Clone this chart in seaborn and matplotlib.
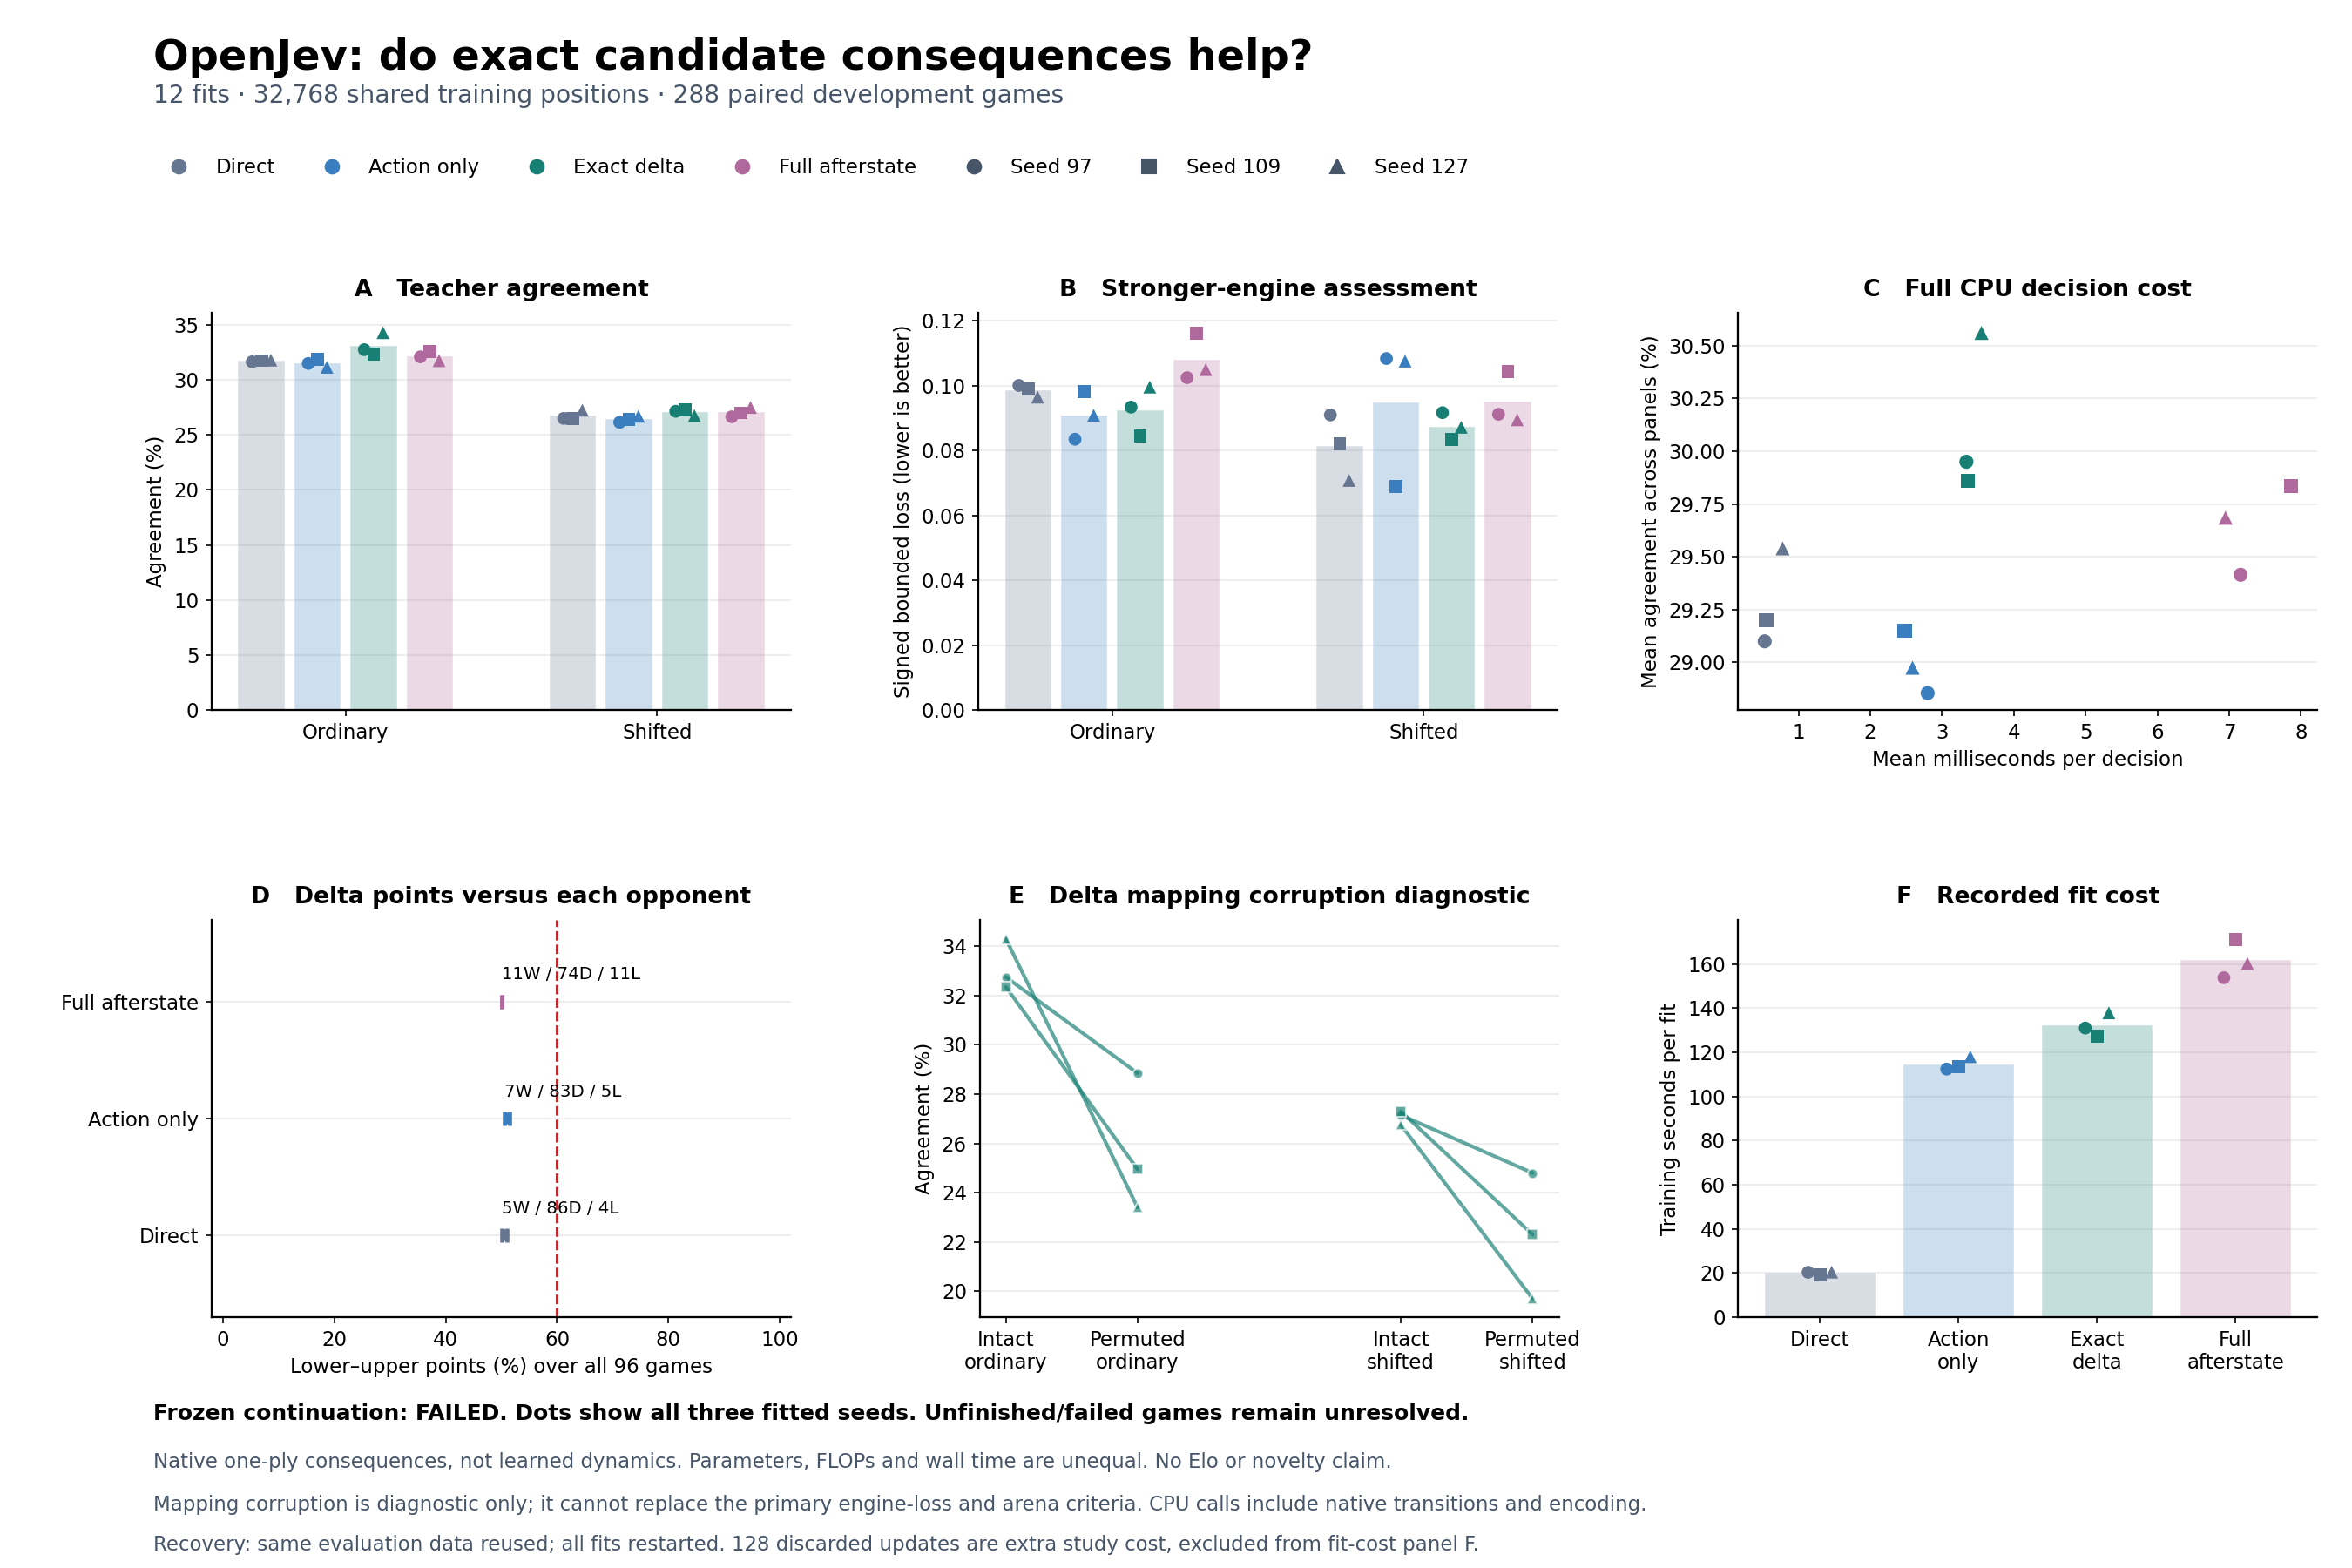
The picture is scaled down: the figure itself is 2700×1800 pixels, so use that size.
import numpy as np
import pandas as pd
import matplotlib.pyplot as plt
import seaborn as sns
from matplotlib.lines import Line2D

variants = ['Direct', 'Action only', 'Exact delta', 'Full afterstate']
variant_ticks = ['Direct', 'Action\nonly', 'Exact\ndelta', 'Full\nafterstate']
seeds = ['Seed 97', 'Seed 109', 'Seed 127']
panels = ['Ordinary', 'Shifted']

# rows: variants, columns: seeds 97 / 109 / 127
agree_ordinary = [[31.65, 31.75, 31.8], [31.5, 31.85, 31.15],
                  [32.75, 32.35, 34.3], [32.1, 32.6, 31.75]]
agree_shifted = [[26.5, 26.5, 27.25], [26.15, 26.4, 26.7],
                 [27.15, 27.3, 26.75], [26.65, 27.0, 27.5]]

loss_ordinary = [[0.1001, 0.0990, 0.0965], [0.0835, 0.0982, 0.0909],
                 [0.0934, 0.0845, 0.0996], [0.1025, 0.1162, 0.1050]]
loss_shifted = [[0.0910, 0.0821, 0.0708], [0.1084, 0.0689, 0.1076],
                [0.0917, 0.0834, 0.0872], [0.0912, 0.1044, 0.0895]]

ms_per_decision = [[0.53, 0.55, 0.78], [2.80, 2.48, 2.59],
                   [3.34, 3.36, 3.55], [7.16, 7.86, 6.95]]
mean_agreement = [[29.10, 29.20, 29.54], [28.855, 29.15, 28.975],
                  [29.95, 29.86, 30.56], [29.415, 29.835, 29.685]]

# delta vs each opponent (96 games)
opponents = ['Direct', 'Action only', 'Full afterstate']
opp_wins = [5, 7, 11]
opp_draws = [86, 83, 74]
opp_losses = [4, 5, 11]
n_games = 96

# exact delta mapping corruption, per seed
intact_ordinary = [32.75, 32.35, 34.3]
permuted_ordinary = [28.85, 24.95, 23.4]
intact_shifted = [27.15, 27.3, 26.75]
permuted_shifted = [24.8, 22.3, 19.7]

fit_seconds = [[20.3, 19.2, 20.4], [112.4, 113.6, 118.0],
               [131.0, 127.3, 137.9], [153.8, 171.2, 160.3]]

colors = ['#667590', '#3a7ebf', '#177f73', '#b0699c']
seed_color = '#475569'
markers = {'Seed 97': 'o', 'Seed 109': 's', 'Seed 127': '^'}
palette = dict(zip(variants, colors))

sns.set_style('ticks')
plt.rcParams['font.family'] = ['DejaVu Sans']
plt.rcParams.update({
    'xtick.labelsize': 11, 'ytick.labelsize': 11, 'axes.labelsize': 11,
    'axes.linewidth': 1.1, 'text.color': 'black', 'axes.labelcolor': 'black',
    'xtick.color': 'black', 'ytick.color': 'black', 'axes.edgecolor': 'black',
})

fig = plt.figure(figsize=(18, 12), dpi=150)

w, h = 0.2463, 0.2533
axA = fig.add_axes([0.090, 0.5472, w, h])
axB = fig.add_axes([0.416, 0.5472, w, h])
axC = fig.add_axes([0.739, 0.5472, w, h])
axD = fig.add_axes([0.090, 0.160, w, h])
axE = fig.add_axes([0.4165, 0.160, w, h])
axF = fig.add_axes([0.739, 0.160, w, h])


def long_table(ordinary, shifted):
    rows = []
    for pi, vals in enumerate([ordinary, shifted]):
        for vi, v in enumerate(variants):
            for si, s in enumerate(seeds):
                rows.append({'panel': panels[pi], 'variant': v, 'seed': s,
                             'value': vals[vi][si], 'pi': pi, 'vi': vi, 'si': si})
    return pd.DataFrame(rows)


def style_ax(ax, title):
    ax.set_title(title, fontsize=12.8, fontweight='bold', pad=9)
    ax.grid(axis='y', color='#eeeeee', lw=1.0)
    ax.set_axisbelow(True)
    sns.despine(ax=ax)


def grouped_panel(ax, ordinary, shifted, ylabel, title, ylim):
    df = long_table(ordinary, shifted)
    sns.barplot(data=df, x='panel', y='value', hue='variant', hue_order=variants,
                palette=palette, width=0.72, gap=0.17, errorbar=None,
                saturation=1, alpha=0.25, legend=False, ax=ax)
    seed_shift = np.array([-0.03, 0.0, 0.03])
    df['x'] = df['pi'] + (df['vi'] - 1.5) * 0.18 + seed_shift[df['si']]
    sns.scatterplot(data=df, x='x', y='value', hue='variant', hue_order=variants,
                    palette=palette, style='seed', markers=markers, s=50,
                    linewidth=0, legend=False, ax=ax, zorder=3)
    ax.set_xticks([0, 1], panels)
    ax.set_xlim(-0.43, 1.43)
    ax.set_ylim(*ylim)
    ax.set_xlabel('')
    ax.set_ylabel(ylabel)
    style_ax(ax, title)


grouped_panel(axA, agree_ordinary, agree_shifted, 'Agreement (%)',
              'A   Teacher agreement', (0, 36.1))
grouped_panel(axB, loss_ordinary, loss_shifted,
              'Signed bounded loss (lower is better)',
              'B   Stronger-engine assessment', (0, 0.1225))
axB.set_yticks(np.arange(0, 0.121, 0.02))
axB.yaxis.set_major_formatter(plt.FormatStrFormatter('%.2f'))

# C: cost scatter
rows = []
for vi, v in enumerate(variants):
    for si, s in enumerate(seeds):
        rows.append({'variant': v, 'seed': s, 'ms': ms_per_decision[vi][si],
                     'agree': mean_agreement[vi][si]})
dfC = pd.DataFrame(rows)
sns.scatterplot(data=dfC, x='ms', y='agree', hue='variant', hue_order=variants,
                palette=palette, style='seed', markers=markers, s=60,
                linewidth=0, legend=False, ax=axC, zorder=3)
axC.set_xlim(0.16, 8.23)
axC.set_ylim(28.775, 30.655)
axC.set_xticks(range(1, 9))
axC.set_yticks(np.arange(29.0, 30.51, 0.25))
axC.yaxis.set_major_formatter(plt.FormatStrFormatter('%.2f'))
axC.set_xlabel('Mean milliseconds per decision')
axC.set_ylabel('Mean agreement across panels (%)')
style_ax(axC, 'C   Full CPU decision cost')

# D: lower-upper points range per opponent
for yi, opp in enumerate(opponents):
    unresolved = n_games - opp_wins[yi] - opp_draws[yi] - opp_losses[yi]
    lo = 100 * (opp_wins[yi] + opp_draws[yi] / 2) / n_games
    hi = 100 * (opp_wins[yi] + opp_draws[yi] / 2 + unresolved) / n_games
    c = palette[opp]
    axD.plot([lo, hi], [yi, yi], color=c, lw=6.5, solid_capstyle='butt', zorder=3)
    axD.plot([lo, hi], [yi, yi], color=c, lw=0, marker='|', ms=8, mew=2.2, zorder=3)
    axD.text(lo, yi + 0.16, f'{opp_wins[yi]}W / {opp_draws[yi]}D / {opp_losses[yi]}L',
             fontsize=9.5, va='bottom', ha='left')
axD.axvline(60, color='#c0272d', ls='--', lw=1.4, zorder=2)
axD.set_yticks(range(len(opponents)), opponents)
axD.set_ylim(-0.7, 2.7)
axD.set_xlim(-2, 102)
axD.set_xticks(range(0, 101, 20))
axD.set_xlabel('Lower\u2013upper points (%) over all 96 games')
style_ax(axD, 'D   Delta points versus each opponent')

# E: intact vs permuted delta mapping
teal = palette['Exact delta']
for si, s in enumerate(seeds):
    for xs, ys in [([0, 1], [intact_ordinary[si], permuted_ordinary[si]]),
                   ([3, 4], [intact_shifted[si], permuted_shifted[si]])]:
        sns.lineplot(x=xs, y=ys, color=teal, alpha=0.68, lw=2.0,
                     marker=markers[s], markersize=5.5, markeredgewidth=1,
                     ax=axE, zorder=3)
axE.set_xticks([0, 1, 3, 4], ['Intact\nordinary', 'Permuted\nordinary',
                              'Intact\nshifted', 'Permuted\nshifted'])
axE.set_xlim(-0.2, 4.2)
axE.set_ylim(18.95, 35.07)
axE.set_yticks(range(20, 35, 2))
axE.set_ylabel('Agreement (%)')
style_ax(axE, 'E   Delta mapping corruption diagnostic')

# F: fit cost
rows = []
for vi, v in enumerate(variants):
    for si, s in enumerate(seeds):
        rows.append({'variant': v, 'seed': s, 'sec': fit_seconds[vi][si],
                     'vi': vi, 'si': si})
dfF = pd.DataFrame(rows)
sns.barplot(data=dfF, x='variant', y='sec', hue='variant', order=variants,
            hue_order=variants, palette=palette, width=0.8, errorbar=None,
            saturation=1, alpha=0.25, legend=False, ax=axF)
dfF['x'] = dfF['vi'] + np.array([-0.085, 0.0, 0.085])[dfF['si']]
sns.scatterplot(data=dfF, x='x', y='sec', hue='variant', hue_order=variants,
                palette=palette, style='seed', markers=markers, s=50,
                linewidth=0, legend=False, ax=axF, zorder=3)
axF.set_xticks(range(4), variant_ticks)
axF.set_xlim(-0.59, 3.59)
axF.set_ylim(0, 180)
axF.set_yticks(range(0, 161, 20))
axF.set_xlabel('')
axF.set_ylabel('Training seconds per fit')
style_ax(axF, 'F   Recorded fit cost')

# header
fig.text(0.065, 0.963, 'OpenJev: do exact candidate consequences help?',
         fontsize=23, fontweight='bold', va='center', ha='left')
fig.text(0.065, 0.939, '12 fits \u00b7 32,768 shared training positions \u00b7 288 paired development games',
         fontsize=13.5, color=seed_color, va='center', ha='left')

handles = [Line2D([], [], ls='', marker='o', color=c, ms=7.5) for c in colors]
handles += [Line2D([], [], ls='', marker=markers[s], color=seed_color, ms=7.5) for s in seeds]
fig.legend(handles, variants + seeds, loc='center left', bbox_to_anchor=(0.064, 0.893),
           ncol=7, frameon=False, fontsize=11, handlelength=1.0,
           handletextpad=1.35, columnspacing=2.35)

# footer
fig.text(0.065, 0.0985, 'Frozen continuation: FAILED. Dots show all three fitted seeds. '
         'Unfinished/failed games remain unresolved.',
         fontsize=12, fontweight='bold', va='center', ha='left')
notes = ['Native one-ply consequences, not learned dynamics. Parameters, FLOPs and wall time are unequal. No Elo or novelty claim.',
         'Mapping corruption is diagnostic only; it cannot replace the primary engine-loss and arena criteria. CPU calls include native transitions and encoding.',
         'Recovery: same evaluation data reused; all fits restarted. 128 discarded updates are extra study cost, excluded from fit-cost panel F.']
for y, note in zip([0.0675, 0.0405, 0.0145], notes):
    fig.text(0.065, y, note, fontsize=11, color=seed_color, va='center', ha='left')

fig.savefig('out.png', dpi=150)
